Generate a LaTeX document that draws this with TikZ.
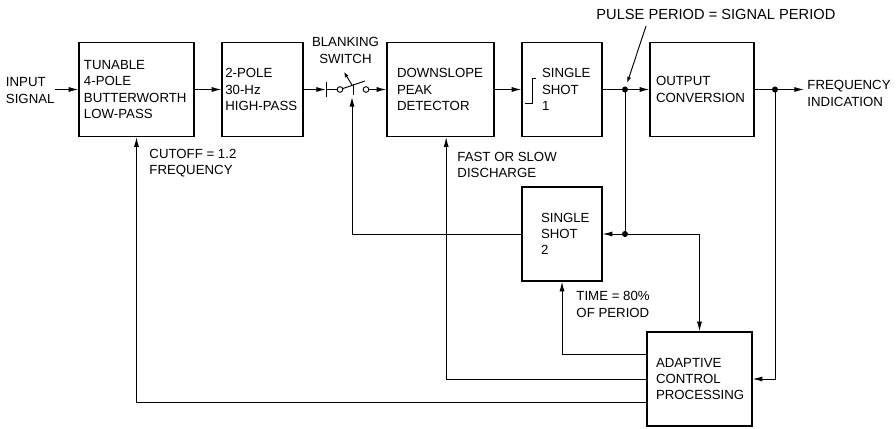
\documentclass[tikz,border=0pt]{standalone}
\usepackage{fontspec}
\setmainfont{Liberation Sans}
\usetikzlibrary{positioning, arrows.meta, calc}

\tikzset{
  block/.style={draw, line width=1.1pt, align=left, minimum height=2.82cm, inner ysep=0pt},
  lbl/.style={align=left, inner sep=0pt},
  arr/.style={-{Latex[length=2.9mm, width=1.5mm]}},
  ptr/.style={-{Latex[length=1.8mm, width=1.2mm]}, shorten >=0.12cm},
  dot/.style={circle, fill, draw, inner sep=0pt, minimum size=0.15cm},
  contact/.style={circle, draw, fill=white, inner sep=0pt, minimum size=0.17cm},
}

\begin{document}
\begin{tikzpicture}[x=0.03cm, y=-0.03cm, line width=0.8pt, font=\fontsize{11.3pt}{13.8pt}\selectfont]
\useasboundingbox (0,0) rectangle (896,429);

    % Forward path
    \node[lbl, anchor=east] (inp) at (55,90.5) {INPUT\\SIGNAL};
    \node[block, minimum width=3.45cm, text width=3.15cm, inner xsep=0.15cm] (lp) at (136.5,89.5) {TUNABLE\\4-POLE\\BUTTERWORTH\\\mbox{LOW-PASS}};
    \node[block, minimum width=2.43cm, text width=2.23cm, inner xsep=0.1cm] (hp) at (262.5,89.5) {2-POLE\\30-Hz\\\mbox{HIGH-PASS}};
    \node[block, minimum width=3.21cm, text width=2.61cm, inner xsep=0.3cm] (pd) at (440.5,89.5) {DOWNSLOPE\\PEAK\\DETECTOR};
    \node[block, minimum width=2.4cm, text width=1.2cm, inner xsep=0.6cm] (ss1) at (562,89.5) {SINGLE\\SHOT\\1};
    \node[block, minimum width=3.12cm, text width=2.76cm, inner xsep=0.18cm] (oc) at (702,89.5) {OUTPUT\\CONVERSION};
    \node[lbl, anchor=west] (outp) at (807,93.5) {FREQUENCY\\INDICATION};

    % Feedback blocks
    \node[block, minimum width=2.4cm, text width=1.26cm, inner xsep=0.57cm] (ss2) at (562,234) {SINGLE\\SHOT\\2};
    \node[block, minimum width=3.15cm, text width=2.61cm, inner xsep=0.27cm] (ac) at (699.5,379) {ADAPTIVE\\CONTROL\\PROCESSING};

    % Junctions
    \node[dot] (j1) at (625,89.5) {};
    \node[dot] (j2) at (775,89.5) {};
    \node[dot] (j3) at (625,234) {};

    % Step symbol in single shot 1
    \draw[line width=1.1pt] ($(ss1.west)+(4,14)$) -- ++(7,0) -- ++(0,-25) -- ++(4,0);

    % Blanking switch
    \coordinate (bar) at (326,89.5);
    \node[contact] (c1) at (340,89.5) {};
    \node[contact] (c2) at (366,89.5) {};
    \coordinate (blade) at (365,81);
    \coordinate (swin) at (352,97);
    \draw[arr] (hp) -- (bar);
    \draw ($(bar)+(0,-7.5)$) -- ($(bar)+(0,7.5)$);
    \draw (bar) -- (c1);
    \draw (c1) -- (blade);
    \draw (353,84) -- (353,95);
    \draw[-{Latex[length=1.6mm, width=1.2mm]}] (352,85) -- (344,72);
    \draw[arr] (c2) -- (pd);
    \node[lbl, align=center] (blk) at (345.5,50.5) {BLANKING\\SWITCH};

    % Main connections
    \draw[arr] (inp.east |- lp.west) -- (lp.west);
    \draw[arr] (lp) -- (hp);
    \draw[arr] (pd) -- (ss1);
    \draw (ss1) -- (j1);
    \draw[arr] (j1) -- (oc);
    \draw (oc) -- (j2);
    \draw[arr] (j2) -- ([xshift=-0.09cm]outp.west |- j2);

    % Feedback connections
    \draw (j1) -- (j3);
    \draw[arr] (j3) -- (ss2);
    \draw[arr] (j3) -| (ac.north);
    \draw[arr] (j2) |- (ac.east);
    \draw[arr] (ss2.west) -| (swin);
    \draw[arr] ([yshift=0.75cm]ac.west) -| (ss2.south);
    \draw[arr] (ac.west) -| ([xshift=0.17cm]pd.south);
    \draw[arr] ([yshift=-0.69cm]ac.west) -| (lp.south);

    % Labels
    \node[lbl, anchor=west] (cut) at (149,163.5) {CUTOFF = 1.2\\FREQUENCY};
    \node[lbl, anchor=west] (dis) at (457,165) {FAST OR SLOW\\DISCHARGE};
    \node[lbl, anchor=west] (tim) at (576,304.5) {TIME = 80\%\\OF PERIOD};
    \node[lbl, anchor=west, font=\fontsize{12.5pt}{15pt}\selectfont] (pls) at (596,14) {PULSE PERIOD = SIGNAL PERIOD};
    \coordinate (plsfoot) at (646,26);
    \draw[ptr] (plsfoot) -- (j1);
\end{tikzpicture}
\end{document}
